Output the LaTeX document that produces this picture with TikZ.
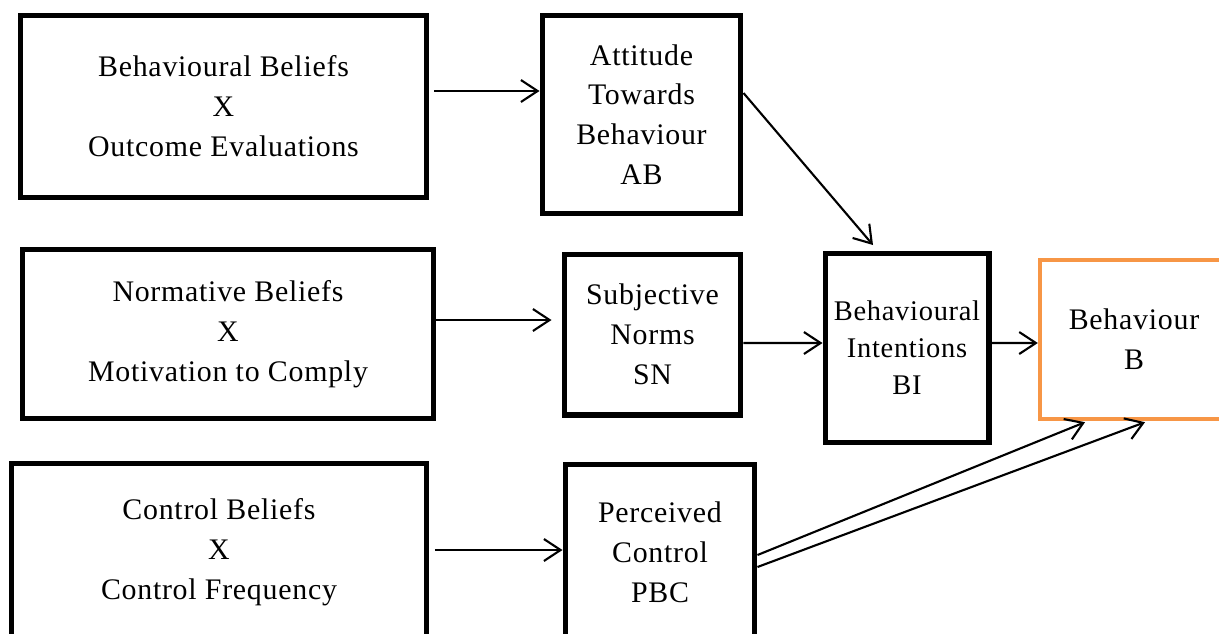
\documentclass[tikz,border=0pt]{standalone}
\usepackage{fontspec}
\setmainfont[LetterSpace=2.5]{Liberation Serif}
\usetikzlibrary{arrows.meta}
\usetikzlibrary{calc}
\definecolor{behorange}{RGB}{247,150,70}
\newcommand{\diagfont}{\fontsize{17}{22.7}\selectfont}
\newcommand{\smallfont}{\fontsize{16.2}{21}\selectfont}
\tikzset{
  box/.style={draw, line width=2.85pt, align=center, inner sep=0pt, font=\diagfont},
  outbox/.style={box, draw=behorange, line width=2.5pt},
  link/.style={-{Straight Barb[length=9.5pt,width=12.5pt]}, line width=1.2pt}
}

\begin{document}
\begin{tikzpicture}[x=0.02cm, y=-0.02cm]
    \useasboundingbox (0,0) rectangle (1219,633);
    \clip (0,0) rectangle (1219,633);
    \node[box, minimum width=8.14cm, minimum height=3.66cm] (bbx) at (223.5,106.5) {Behavioural Beliefs\\X\\Outcome Evaluations};
    \node[box, minimum width=3.98cm, minimum height=3.98cm] (ab) at (641.5,114.5) {Attitude\\Towards\\Behaviour\\AB};
    \node[box, minimum width=8.24cm, minimum height=3.4cm] (nbx) at (228,334) {Normative Beliefs\\X\\Motivation to Comply};
    \node[box, minimum width=3.54cm, minimum height=3.22cm] (sn) at (652.5,334.5) {Subjective\\Norms\\SN};
    \node[box, font=\smallfont, minimum width=3.28cm, minimum height=3.8cm] (bi) at (907,348) {Behavioural\\Intentions\\BI};
    \node[outbox, minimum width=3.76cm, minimum height=3.18cm] (b) at (1134,339.5) {Behaviour\\B};
    \node[box, minimum width=8.32cm, minimum height=3.56cm] (cbx) at (219,552) {Control Beliefs\\X\\Control Frequency};
    \node[box, minimum width=3.8cm, minimum height=3.54cm] (pbc) at (660,552.5) {Perceived\\Control\\PBC};
    \draw[link] ($(bbx.east)+(5,-15.5)$) -- ($(ab.west)+(0,-23.5)$);
    \draw[link] ($(ab.east)+(0,-21.5)$) -- ($(bi.north)+(-34,-5.5)$);
    \draw[link] ($(nbx.east)+(0,-14)$) -- ($(sn.west)+(-10,-14.5)$);
    \draw[link] ($(sn.east)+(0,8.5)$) -- ($(bi.west)+(0,-5)$);
    \draw[link] ($(bi.east)+(0,-5)$) -- ($(b.west)+(0,3.5)$);
    \draw[link] ($(cbx.east)+(5.5,-2)$) -- ($(pbc.west)+(0,-2.5)$);
    \draw[link] ($(pbc.east)+(0,2.5)$) -- ($(b.south)+(-49,1)$);
    \draw[link] ($(pbc.east)+(0,14.5)$) -- ($(b.south)+(11,1)$);
\end{tikzpicture}
\end{document}
